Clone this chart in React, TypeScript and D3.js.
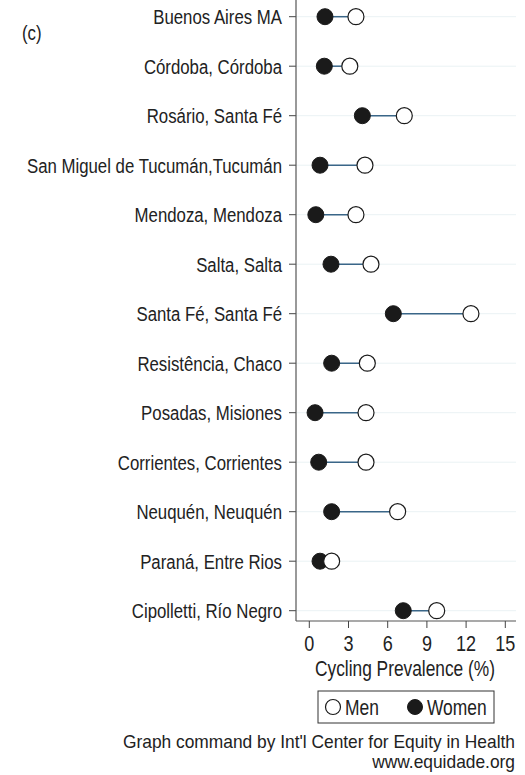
import * as d3 from "d3"

const cities = [
  "Buenos Aires MA",
  "Córdoba, Córdoba",
  "Rosário, Santa Fé",
  "San Miguel de Tucumán,Tucumán",
  "Mendoza, Mendoza",
  "Salta, Salta",
  "Santa Fé, Santa Fé",
  "Resistência, Chaco",
  "Posadas, Misiones",
  "Corrientes, Corrientes",
  "Neuquén, Neuquén",
  "Paraná, Entre Rios",
  "Cipolletti, Río Negro",
]
const women = [1.2, 1.15, 4.06, 0.82, 0.5, 1.66, 6.43, 1.71, 0.44, 0.72, 1.71, 0.82, 7.19]
const men = [3.57, 3.1, 7.27, 4.26, 3.57, 4.72, 12.37, 4.44, 4.34, 4.34, 6.76, 1.71, 9.75]
const xTicks = [0, 3, 6, 9, 12, 15]

const W = 525
const H = 775
const font = "'Liberation Sans', Arial, sans-serif"

// condensed-looking text: Liberation Sans squeezed horizontally
function T({ x, y, sx = 0.8, anchor = "start", size = 21, children }: any) {
  return (
    <text transform={`translate(${x},${y}) scale(${sx},1)`} textAnchor={anchor} fontSize={size} fill="#222">
      {children}
    </text>
  )
}

export default function App() {
  const x = d3.scaleLinear().domain([0, 15]).range([309.3, 505.3])
  const y = d3.scalePoint().domain(cities).range([16.7, 610.7])
  const axisX = 296
  const axisY = 621
  const right = 516

  return (
    <svg width={W} height={H} style={{ position: "absolute", left: 0, top: 0, background: "#fff" }} fontFamily={font}>
      <T x={22} y={40}>(c)</T>

      {/* grid + y ticks */}
      {cities.map((c) => (
        <g key={c}>
          <line x1={axisX} x2={right} y1={y(c)} y2={y(c)} stroke="#eaf2f4" strokeWidth={1} />
          <line x1={axisX - 7} x2={axisX} y1={y(c)} y2={y(c)} stroke="#444" strokeWidth={1} />
          <T x={282} y={y(c)! + 7.5} anchor="end" sx={0.8}>{c}</T>
        </g>
      ))}

      {/* axes */}
      <line x1={axisX} x2={axisX} y1={0} y2={axisY} stroke="#555" strokeWidth={1.2} />
      <line x1={axisX} x2={right} y1={axisY} y2={axisY} stroke="#555" strokeWidth={1.2} />
      {xTicks.map((t) => (
        <g key={t}>
          <line x1={x(t)} x2={x(t)} y1={axisY} y2={axisY + 7} stroke="#444" strokeWidth={1} />
          <T x={x(t)} y={650.5} anchor="middle" size={21.5} sx={0.84}>{t}</T>
        </g>
      ))}
      <T x={(axisX + right) / 2 - 1} y={675.5} anchor="middle" size={21.5} sx={0.806}>Cycling Prevalence (%)</T>

      {/* dumbbells */}
      {cities.map((c, i) => (
        <g key={"d" + c}>
          <line x1={x(women[i])} x2={x(men[i])} y1={y(c)} y2={y(c)} stroke="#3a6688" strokeWidth={1.5} />
          <circle cx={x(women[i])} cy={y(c)} r={8} fill="#1a1a1a" stroke="#1a1a1a" strokeWidth={1} />
          <circle cx={x(men[i])} cy={y(c)} r={8} fill="#fff" stroke="#1a1a1a" strokeWidth={1.2} />
        </g>
      ))}

      {/* legend */}
      <rect x={318} y={691} width={176} height={32} fill="#fff" stroke="#333" strokeWidth={1} />
      <circle cx={333} cy={707} r={7.5} fill="#fff" stroke="#1a1a1a" strokeWidth={1.2} />
      <T x={345} y={715} size={21.5} sx={0.81}>Men</T>
      <circle cx={415} cy={707} r={7.5} fill="#1a1a1a" stroke="#1a1a1a" />
      <T x={427} y={715} size={21.5} sx={0.81}>Women</T>

      {/* footer */}
      <T x={515} y={748} anchor="end" size={18} sx={0.965}>Graph command by Int'l Center for Equity in Health</T>
      <T x={515} y={768} anchor="end" size={18} sx={0.965}>www.equidade.org</T>
    </svg>
  )
}
